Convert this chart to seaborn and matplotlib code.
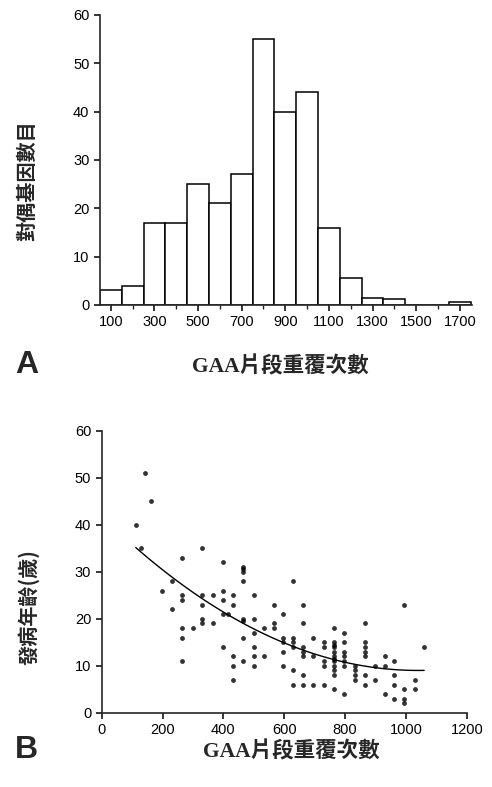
import matplotlib
matplotlib.use("Agg")
import matplotlib.pyplot as plt
import matplotlib.ticker as ticker
import numpy as np
import pandas as pd
import seaborn as sns

# histogram (panel A): GAA repeat bins, allele counts
hist_centers = [100, 200, 300, 400, 500, 600, 700, 800, 900, 1000,
                1100, 1200, 1300, 1400, 1500, 1600, 1700]
hist_counts = [3, 4, 17, 17, 25, 21, 27, 55, 40, 44,
               16, 5.5, 1.5, 1.3, 0, 0, 0.6]
hist_ticks = [100, 300, 500, 700, 900, 1100, 1300, 1500, 1700]

# scatter (panel B): GAA repeats vs age of onset
gaa_repeats = [
    112, 130, 143, 161, 198, 232, 232,
    264, 264, 264, 264, 264, 264, 299,
    330, 330, 330, 330, 330, 366, 366,
    398, 398, 398, 398, 398, 415,
    433, 433, 433, 433, 433,
    466, 466, 466, 466, 466, 466, 466, 466,
    499, 499, 499, 499, 499, 499, 532, 532,
    565, 565, 565, 597, 597, 597, 597, 597,
    629, 629, 629, 629, 629, 629,
    662, 662, 662, 662, 662, 662, 662,
    696, 696, 696, 731, 731, 731, 731, 731,
    765, 765, 765, 765, 765, 765, 765, 765, 765, 765, 765, 765,
    798, 798, 798, 798, 798, 798, 798,
    831, 831, 831, 831, 864, 864, 864, 864, 864, 864, 864,
    899, 899, 930, 930, 930, 962, 962, 962, 962,
    994, 994, 994, 994, 1030, 1030, 1060,
]
onset_ages = [
    40, 35, 51, 45, 26, 28, 22,
    33, 25, 24, 18, 16, 11, 18,
    35, 25, 23, 20, 19, 25, 19,
    32, 26, 24, 21, 14, 21,
    25, 23, 12, 10, 7,
    31, 30.5, 30, 28, 20, 19.5, 16, 11,
    25, 20, 17, 14, 12, 10, 18, 12,
    23, 19, 18, 21, 16, 15, 13, 10,
    28, 16, 15, 14, 9, 6,
    23, 19, 14, 13, 12, 8, 6,
    16, 12, 6, 15, 14, 11, 10, 6,
    18, 15, 14.5, 14, 13, 12, 11.5, 11, 10, 9, 8, 5,
    17, 15, 13, 12, 11, 10, 4,
    10, 9, 8, 7, 19, 15, 14, 13, 12, 8, 6,
    10, 7, 12, 10, 4, 11, 8, 6, 3,
    23, 5, 3, 2, 7, 5, 14,
]

sns.set_style("ticks")
plt.rcParams['font.family'] = ['Liberation Sans', 'Noto Sans CJK TC', 'DejaVu Sans']
cjk = ['Noto Sans CJK TC', 'DejaVu Sans']
xlab_font = ['Liberation Serif', 'Noto Sans CJK TC']

fig = plt.figure(figsize=(4.92, 7.87), dpi=100)
axA = fig.add_axes([0.203, 0.6125, 0.756, 0.3685])
axB = fig.add_axes([0.2067, 0.0944, 0.742, 0.358])

# panel A
hist_df = pd.DataFrame({'repeats': hist_centers, 'count': hist_counts})
bin_edges = [float(b) for b in np.arange(50, 1751, 100)]
sns.histplot(data=hist_df, x='repeats', weights='count',
             bins=bin_edges, color='white', edgecolor='black',
             linewidth=1.1, alpha=1, ax=axA)
axA.set_xlim(50, 1755)
axA.set_ylim(0, 60)
axA.set_xticks(hist_ticks)
axA.xaxis.set_minor_locator(ticker.MultipleLocator(100))
axA.set_yticks(range(0, 61, 10))
axA.set_xlabel('')
axA.set_ylabel('對偶基因數目', family=cjk, fontsize=14.5, fontweight='bold')
axA.yaxis.set_label_coords(-0.17, 0.43)

# panel B
sns.regplot(x=gaa_repeats, y=onset_ages, order=2, ci=None, truncate=True,
            scatter_kws=dict(s=12, color='black', linewidths=0),
            line_kws=dict(color='black', lw=1), ax=axB)
axB.set_xlim(0, 1200)
axB.set_ylim(0, 60)
axB.set_xticks(range(0, 1201, 200))
axB.set_yticks(range(0, 61, 10))
axB.set_ylabel('發病年齡(歲)', family=cjk, fontsize=14.5, fontweight='bold')
axB.yaxis.set_label_coords(-0.17, 0.376)

for ax in (axA, axB):
    sns.despine(ax=ax)
    for s in ('left', 'bottom'):
        ax.spines[s].set_linewidth(1.2)
    ax.tick_params(which='major', direction='out', length=4, width=1.1,
                   labelsize=10.5, colors='black')
    ax.tick_params(which='minor', direction='out', length=3, width=1.0)

fig.text(0.03, 1 - 365 / 787, 'A', fontsize=23, fontweight='bold', va='center')
fig.text(0.03, 1 - 750 / 787, 'B', fontsize=23, fontweight='bold', va='center')
fig.text(280 / 492, 1 - 367 / 787, 'GAA片段重覆次數', family=xlab_font,
         fontsize=15.5, fontweight='bold', ha='center', va='center')
fig.text(291 / 492, 1 - 752 / 787, 'GAA片段重覆次數', family=xlab_font,
         fontsize=15.5, fontweight='bold', ha='center', va='center')

fig.savefig('out.png', dpi=100)
